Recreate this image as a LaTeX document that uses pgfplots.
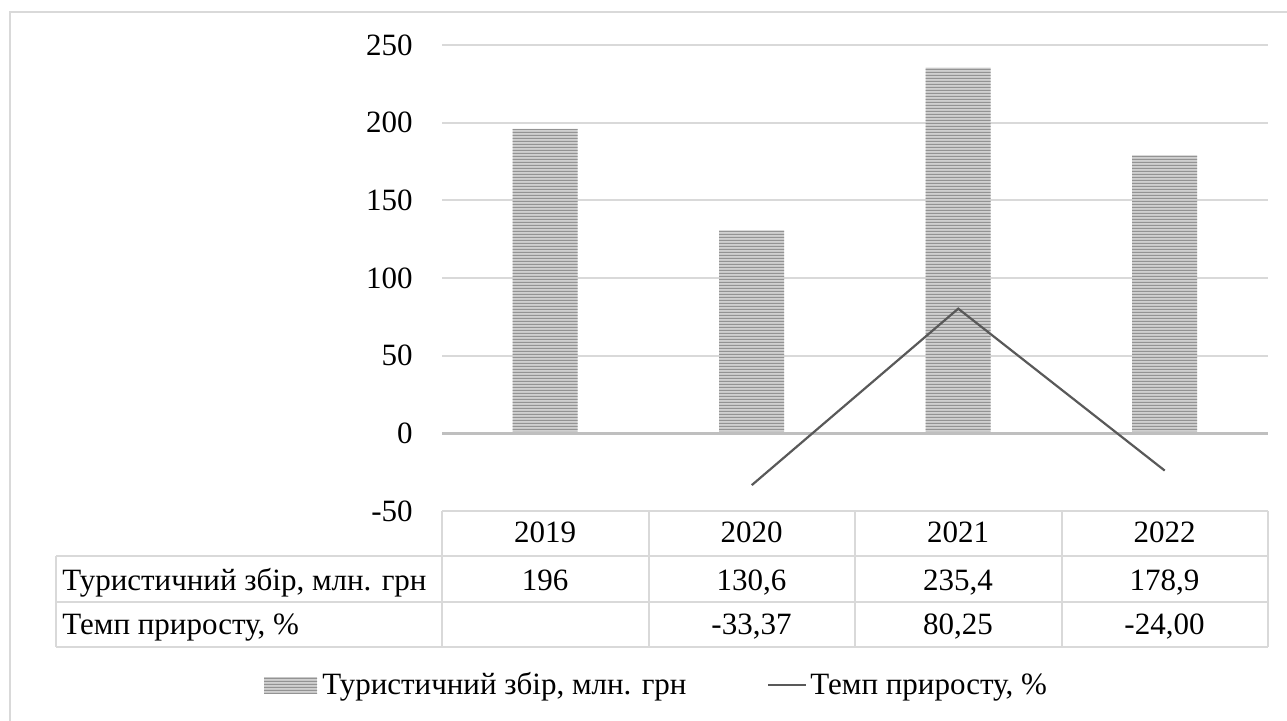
\documentclass[border=0pt]{standalone}
\usepackage{fontspec}
\setmainfont{Liberation Serif}
\usepackage{pgfplots}
\pgfplotsset{compat=1.18}
\usetikzlibrary{patterns}
\pgfdeclarepatternformonly{hstripes}{\pgfqpoint{0pt}{0pt}}{\pgfqpoint{200pt}{1.5pt}}{\pgfqpoint{200pt}{1.5pt}}{%
  \pgfpathrectangle{\pgfqpoint{0pt}{0pt}}{\pgfqpoint{200pt}{0.75pt}}\pgfusepath{fill}}
\definecolor{gridc}{HTML}{D9D9D9}
\definecolor{zeroc}{HTML}{BFBFBF}
\definecolor{linec}{HTML}{595959}
\definecolor{barbg}{HTML}{D0D0D0}
\definecolor{barfg}{HTML}{939393}
\newcommand{\fs}{\fontsize{15.5}{18.5}\selectfont}
\begin{document}
\begin{tikzpicture}
\fs
\begin{scope}[x=0.5pt,y=0.5pt]
\useasboundingbox (0,0) rectangle (1287,721);
\draw[gridc, line width=1pt] (1287,709) -- (10,709) -- (10,0);
\end{scope}
\begin{axis}[
  at={(221pt,105pt)}, anchor=south west,
  scale only axis, width=413pt, height=233pt,
  xmin=-0.5, xmax=3.5, ymin=-50, ymax=250,
  ytick={-50,0,50,100,150,200,250},
  yticklabels={-50,0,50,100,150,200,250},
  xtick=\empty,
  axis line style={draw=none},
  major tick length=0pt,
  ymajorgrids, grid style={gridc, line width=1pt},
  yticklabel style={font=\fs, inner sep=0pt, anchor=east, xshift=-14.5pt},
  clip=false,
]
\addplot[ybar, bar width=32.5pt, draw=none,
  preaction={fill=barbg},
  pattern=hstripes, pattern color=barfg]
  coordinates {(0,196) (1,130.6) (2,235.4) (3,178.9)};
\addplot[zeroc, line width=1.5pt, no markers] coordinates {(-0.5,0) (3.5,0)};
\addplot[linec, line width=1.1pt, no markers] coordinates {(1,-33.37) (2,80.25) (3,-24.00)};
\end{axis}
\begin{scope}[x=0.5pt,y=0.5pt]
% data table
\draw[gridc, line width=1pt] (442,210) -- (1268,210);
\draw[gridc, line width=1pt] (56,165) -- (1268,165);
\draw[gridc, line width=1pt] (56,119) -- (1268,119);
\draw[gridc, line width=1pt] (56,74) -- (1268,74);
\draw[gridc, line width=1pt] (56,165) -- (56,74);
\foreach \xx in {442,648.5,855,1061.5,1268} {\draw[gridc, line width=1pt] (\xx,210) -- (\xx,74);}
\foreach \xx/\t in {545/2019,751.5/2020,958/2021,1164.5/2022} {\node[anchor=base, inner sep=0pt] at (\xx,178) {\t};}
\foreach \xx/\t in {545/196,751.5/{130,6},958/{235,4},1164.5/{178,9}} {\node[anchor=base, inner sep=0pt] at (\xx,130) {\t};}
\foreach \xx/\t in {751.5/{-33,37},958/{80,25},1164.5/{-24,00}} {\node[anchor=base, inner sep=0pt] at (\xx,86) {\t};}
\node[anchor=base west, inner sep=0pt] at (62,130) {Туристичний збір, млн. грн};
\node[anchor=base west, inner sep=0pt] at (62,86) {Темп приросту, \%};
% legend
\fill[barbg] (264,27) rectangle (317,44);
\fill[pattern=hstripes, pattern color=barfg] (264,27) rectangle (317,44);
\node[anchor=base west, inner sep=0pt] at (322,26) {Туристичний збір, млн. грн};
\draw[linec, line width=1.1pt] (768,36) -- (806,36);
\node[anchor=base west, inner sep=0pt] at (810,26) {Темп приросту, \%};
\end{scope}
\end{tikzpicture}
\end{document}
